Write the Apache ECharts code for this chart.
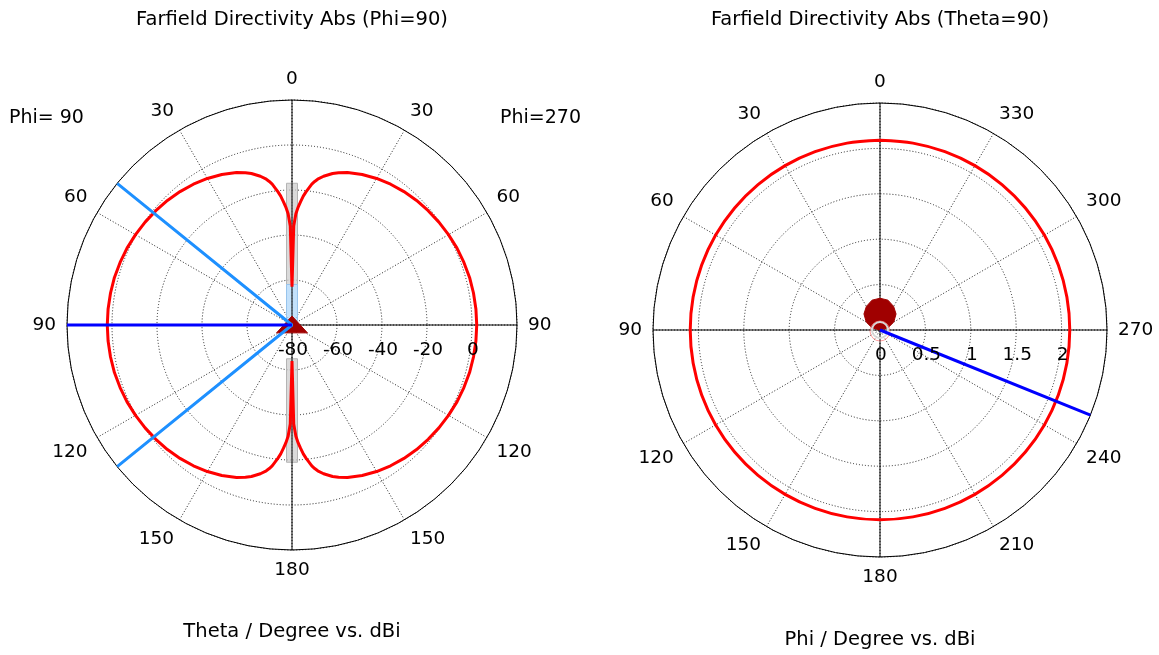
<!DOCTYPE html>
<html>
<head>
<meta charset="utf-8">
<style>
  html, body { margin: 0; padding: 0; background: #fff; }
  #chart { width: 1159px; height: 655px; }
</style>
<script src="https://cdn.jsdelivr.net/npm/echarts@6/dist/echarts.min.js"></script>
</head>
<body>
<div id="chart"></div>
<script>
// Theta cut (Phi = 90 / Phi = 270), directivity in dBi
const thetaDeg = [0, 1, 2, 3, 4, 5, 6, 7, 8, 9, 10, 12, 15, 17, 20, 25, 30, 35, 40, 45, 50, 55, 60, 65, 70, 75, 80, 85, 90,
                  95, 100, 105, 110, 115, 120, 125, 130, 135, 140, 145, 150, 155, 160, 163, 165, 168, 170, 171, 172, 173, 174, 175, 176, 177, 178, 179, 180];
const dirPhi90 = [-63, -36, -30.5, -27.5, -25, -22.5, -20.5, -18.7, -16.8, -15.4, -14.2, -12.4, -10.3, -9.2, -7.9, -6.2, -4.8, -3.6, -2.6, -1.7, -1.0, -0.3, 0.3, 0.9, 1.3, 1.7, 1.9, 2.05, 2.1,
                  2.05, 1.9, 1.7, 1.3, 0.9, 0.3, -0.3, -1.0, -1.7, -2.6, -3.6, -4.8, -6.2, -7.9, -9.2, -10.3, -12.4, -14.2, -15.4, -16.8, -18.7, -20.5, -22.5, -25, -27.5, -30.5, -36, -64];

// Phi cut (Theta = 90), directivity in dBi
const phiDeg = [0, 10, 20, 30, 40, 50, 60, 70, 80, 90, 100, 110, 120, 130, 140, 150, 160, 170, 180,
                190, 200, 210, 220, 230, 240, 250, 260, 270, 280, 290, 300, 310, 320, 330, 340, 350, 360];
const dirTheta90 = [2.09, 2.09, 2.09, 2.09, 2.09, 2.09, 2.09, 2.09, 2.09, 2.09, 2.09, 2.09, 2.09, 2.09, 2.09, 2.09, 2.09, 2.09, 2.09,
                    2.09, 2.09, 2.09, 2.09, 2.09, 2.09, 2.09, 2.09, 2.09, 2.09, 2.09, 2.09, 2.09, 2.09, 2.09, 2.09, 2.09, 2.09];

// Radial tick labels
const ticksLeft = [-80, -60, -40, -20, 0];
const ticksRight = [0, 0.5, 1, 1.5, 2];

// Main lobe direction and 3 dB beam edges (Theta cut), main lobe (Phi cut)
const mainLobeTheta = 90;
const beamEdgesTheta = [51, 129];
const mainLobePhi = 248;

// Marker bands along the null axis (dBi ranges)
const nullBandTop = [-62, -17];
const nullBandBottom = [-65, -19];
const nullInnerBand = [-78, -62];
// Small centre triangle (dBi, angle)
const centreTriangle = [[-76, 0], [-72.3, 117], [-72.3, 243]];
// Small lobe near the centre of the Phi cut (value, angle)
const centreBlob = [[0, 270], [0.09, 285], [0.175, 300], [0.25, 315], [0.30, 330], [0.34, 345], [0.35, 0],
                    [0.34, 15], [0.30, 30], [0.25, 45], [0.175, 60], [0.09, 75], [0, 90]];

const FONT = 'DejaVu Sans';
const TXT = { color: '#000', fontFamily: FONT, fontSize: 18.5, textBorderWidth: 0, opacity: 1 };

const leftLine = [];
for (let i = 0; i < thetaDeg.length; i++) leftLine.push([dirPhi90[i], thetaDeg[i]]);
for (let i = thetaDeg.length - 1; i >= 0; i--) leftLine.push([dirPhi90[i], 360 - thetaDeg[i]]);
const rightLine = phiDeg.map((p, i) => [dirTheta90[i], p]);

function angleAxis(idx, fmt) {
  return {
    polarIndex: idx, type: 'value', min: 0, max: 360, interval: 30,
    startAngle: 90, clockwise: false,
    axisLine: { lineStyle: { color: '#000', width: 1 } },
    axisTick: { show: false },
    axisLabel: Object.assign({ margin: 11, formatter: fmt }, TXT),
    splitLine: { show: true, lineStyle: { color: '#222', type: [1, 2], width: 1 } }
  };
}
function radiusAxis(idx, min, max, interval) {
  return {
    polarIndex: idx, type: 'value', min, max, interval,
    axisLine: { show: false }, axisTick: { show: false }, axisLabel: { show: false },
    splitLine: { show: true, lineStyle: { color: '#222', type: [1, 2], width: 1 } }
  };
}

function crossLines(idx, rMin, rMax) {
  return [
    { type: 'line', coordinateSystem: 'polar', polarIndex: idx, symbol: 'none', silent: true, z: 3,
      lineStyle: { color: '#000', width: 1 }, data: [[rMax, 0], [rMin, 0], [rMax, 180]] },
    { type: 'line', coordinateSystem: 'polar', polarIndex: idx, symbol: 'none', silent: true, z: 3,
      lineStyle: { color: '#000', width: 1 }, data: [[rMax, 90], [rMin, 90], [rMax, 270]] }
  ];
}

function band(idx, range, angle, fill, stroke) {
  return {
    type: 'custom', coordinateSystem: 'polar', polarIndex: idx, silent: true, z: 2,
    data: [0],
    renderItem: (params, api) => {
      const a = api.coord([range[0], angle]);
      const b = api.coord([range[1], angle]);
      const y0 = Math.min(a[1], b[1]), y1 = Math.max(a[1], b[1]);
      return { type: 'rect', shape: { x: a[0] - 5.5, y: y0, width: 11, height: y1 - y0 },
               style: { fill, stroke, lineWidth: 1 } };
    }
  };
}

function polygon(idx, pts, fill, z) {
  return {
    type: 'custom', coordinateSystem: 'polar', polarIndex: idx, silent: true, z,
    data: [0],
    renderItem: (params, api) => ({
      type: 'polygon', shape: { points: pts.map(p => api.coord(p)) },
      style: { fill, stroke: fill, lineWidth: 1 }
    })
  };
}

function tickLabels(idx, ticks) {
  return {
    type: 'scatter', coordinateSystem: 'polar', polarIndex: idx, silent: true, z: 6,
    symbolSize: 0,
    itemStyle: { opacity: 1 },
    data: ticks.map(v => [v, 270]),
    label: Object.assign({ show: true, position: 'bottom', distance: 16, offset: [1, 0],
                           formatter: p => String(p.value[0]) }, TXT)
  };
}

function text(x, y, str, align, size) {
  return { type: 'text', x, y, silent: true,
           style: { text: str, textAlign: align, textVerticalAlign: 'middle', fill: '#000',
                    font: size + 'px "' + FONT + '"' } };
}

const chart = echarts.init(document.getElementById('chart'), null, { renderer: 'canvas' });
chart.setOption({
  backgroundColor: '#fff',
  animation: false,
  polar: [
    { center: [292, 325], radius: 225 },
    { center: [880, 330], radius: 227 }
  ],
  angleAxis: [
    angleAxis(0, v => v === 360 ? '' : String(v <= 180 ? v : 360 - v)),
    angleAxis(1, v => v === 360 ? '' : String(v))
  ],
  radiusAxis: [
    radiusAxis(0, -80, 20, 20),
    radiusAxis(1, 0, 2.5, 0.5)
  ],
  graphic: [
    text(292, 20, 'Farfield Directivity Abs (Phi=90)', 'center', 19.5),
    text(880, 20, 'Farfield Directivity Abs (Theta=90)', 'center', 19.5),
    text(292, 632, 'Theta / Degree vs. dBi', 'center', 19.5),
    text(880, 640, 'Phi / Degree vs. dBi', 'center', 19.5),
    text(9, 118, 'Phi= 90', 'left', 19),
    text(581, 118, 'Phi=270', 'right', 19)
  ],
  series: [
    ...crossLines(0, -80, 20),
    band(0, nullBandTop, 0, 'rgba(205,205,205,0.75)', '#b4b4b4'),
    band(0, nullBandBottom, 180, 'rgba(205,205,205,0.75)', '#b4b4b4'),
    band(0, nullInnerBand, 0, 'rgba(175,215,250,0.75)', '#98c4ec'),
    { type: 'line', coordinateSystem: 'polar', polarIndex: 0, symbol: 'none', silent: true, z: 4,
      lineStyle: { color: '#ff0000', width: 3 }, data: leftLine },
    polygon(0, centreTriangle, '#a00000', 5),
    { type: 'line', coordinateSystem: 'polar', polarIndex: 0, symbol: 'none', silent: true, z: 5,
      lineStyle: { color: '#1e90ff', width: 3 },
      data: [[20, beamEdgesTheta[0]], [-80, beamEdgesTheta[0]], [20, beamEdgesTheta[1]]] },
    { type: 'line', coordinateSystem: 'polar', polarIndex: 0, symbol: 'none', silent: true, z: 5,
      lineStyle: { color: '#0000ff', width: 3 },
      data: [[-80, mainLobeTheta], [20, mainLobeTheta]] },
    tickLabels(0, ticksLeft),

    ...crossLines(1, 0, 2.5),
    { type: 'line', coordinateSystem: 'polar', polarIndex: 1, symbol: 'none', silent: true, z: 4, smooth: 0.3,
      lineStyle: { color: '#ff0000', width: 3 }, data: rightLine },
    polygon(1, centreBlob, '#a00000', 5),
    {
      type: 'custom', coordinateSystem: 'polar', polarIndex: 1, silent: true, z: 5, data: [0],
      renderItem: (params, api) => {
        const c = api.coord([0, 0]);
        return { type: 'group', children: [
          { type: 'circle', shape: { cx: c[0], cy: c[1] + 1, r: 10 }, style: { fill: 'none', stroke: 'rgba(255,120,120,0.7)', lineWidth: 1 } },
          { type: 'circle', shape: { cx: c[0], cy: c[1], r: 8 }, style: { fill: 'none', stroke: '#d8d8d8', lineWidth: 2 } }
        ] };
      }
    },
    { type: 'line', coordinateSystem: 'polar', polarIndex: 1, symbol: 'none', silent: true, z: 6,
      lineStyle: { color: '#0000ff', width: 3 },
      data: [[0, mainLobePhi], [2.5, mainLobePhi]] },
    tickLabels(1, ticksRight)
  ]
});
</script>
</body>
</html>
